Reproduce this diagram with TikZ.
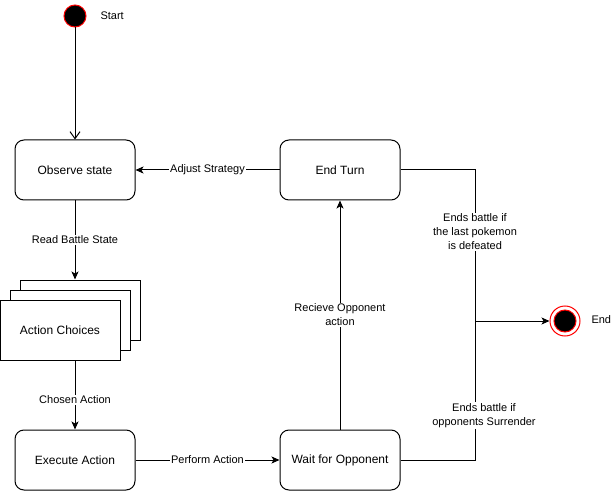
\documentclass[tikz,border=0pt]{standalone}
\usepackage{fontspec}
\setmainfont{Liberation Sans}
\usetikzlibrary{arrows.meta}

\begin{document}
\begin{tikzpicture}
		[
			x=1pt, y=-1pt,
			line width=1pt,
			>={Stealth[length=8pt, width=7pt, inset=2pt]},
			state/.style = {rectangle, rounded corners=9pt, align=center, draw=black, fill=white, minimum width=120pt, minimum height=60pt, font=\fontsize{12}{14}\selectfont},
			sheet/.style = {rectangle, align=center, draw=black, fill=white, minimum width=120pt, minimum height=60pt, font=\fontsize{12}{14}\selectfont},
			inode/.style = {circle, draw=red, fill=black, minimum size=22pt, inner sep=0pt},
			fnode/.style = {circle, draw=red, fill=white, minimum size=30pt, inner sep=0pt},
			elabel/.style = {fill=white, align=center, inner sep=1pt, font=\fontsize{11}{14}\selectfont},
			tlabel/.style = {anchor=west, inner sep=0pt, font=\fontsize{11}{14}\selectfont},
		]
		\useasboundingbox (0,0) rectangle (611,492);

		% start and end
		\node[inode] (start) 	at (  75,  16 ) {};
		\node[tlabel] (starttext) 	at ( 100,  16 ) {Start};
		\node[fnode] (end) 	at ( 565, 321 ) {};
		\node[inode] (endcore) 	at ( 565, 321 ) {};
		\node[tlabel] (endtext) 	at ( 591, 320 ) {End};

		% states
		\node[state] (obs) 	at (  75, 170 ) {Observe state};
		\node[state] (turn) 	at ( 340, 170 ) {End Turn};
		\node[sheet] (back) 	at (  80, 310 ) {};
		\node[sheet] (mid) 	at (  70, 320 ) {};
		\node[sheet] (choices) 	at (  60, 330 ) {Action Choices};
		\node[state] (exec) 	at (  75, 460 ) {Execute Action};
		\node[state] (wait) 	at ( 340, 460 ) {Wait for Opponent};
		\coordinate (join) 	at ( 475, 321 );

		% transitions
		\draw[-{Straight Barb[length=7pt, width=10pt]}] (start) -- (obs);
		\draw[->] (obs) -- (obs.south |- back.north) node[elabel, midway] {Read Battle State};
		\draw[->] (choices.south -| exec.north) -- (exec.north) node[elabel, pos=0.57] {Chosen Action};
		\draw[->] (exec) -- (wait) node[elabel, midway] {Perform Action};
		\draw[->] (wait) -- (turn) node[elabel, midway] {Recieve Opponent\\action};
		\draw[->] (turn) -- (obs) node[elabel, midway] {Adjust Strategy};
		\draw (turn.east) -| (join) node[elabel, pos=0.705] {Ends battle if\\the last pokemon\\is defeated};
		\draw (wait.east) -| (join) node[elabel, pos=0.66, xshift=9pt] {Ends battle if\\opponents Surrender};
		\draw[->] (join) -- (end);

\end{tikzpicture}
\end{document}
